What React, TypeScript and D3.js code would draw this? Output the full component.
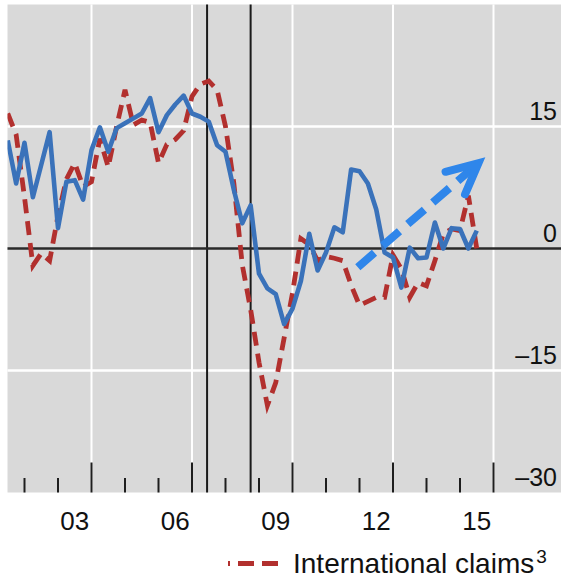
import React from "react";
import * as d3 from "d3";

// Quarterly observations, 2001Q3 .. 2015Q3
const quarters = [
  "2001Q3","2001Q4",
  "2002Q1","2002Q2","2002Q3","2002Q4",
  "2003Q1","2003Q2","2003Q3","2003Q4",
  "2004Q1","2004Q2","2004Q3","2004Q4",
  "2005Q1","2005Q2","2005Q3","2005Q4",
  "2006Q1","2006Q2","2006Q3","2006Q4",
  "2007Q1","2007Q2","2007Q3","2007Q4",
  "2008Q1","2008Q2","2008Q3","2008Q4",
  "2009Q1","2009Q2","2009Q3","2009Q4",
  "2010Q1","2010Q2","2010Q3","2010Q4",
  "2011Q1","2011Q2","2011Q3","2011Q4",
  "2012Q1","2012Q2","2012Q3","2012Q4",
  "2013Q1","2013Q2","2013Q3","2013Q4",
  "2014Q1","2014Q2","2014Q3","2014Q4",
  "2015Q1","2015Q2","2015Q3",
];

const blueSeries = [
  13.3, 8.0,
  13.0, 6.3, 10.3, 14.3,
  2.5, 8.2, 8.4, 6.0,
  12.1, 14.9, 11.9, 14.8,
  15.4, 16.0, 16.6, 18.5,
  14.3, 16.4, 17.7, 18.8,
  16.6, 16.2, 15.6, 12.7,
  11.9, 7.2, 3.1, 5.3,
  -3.1, -4.9, -5.6, -9.3,
  -7.4, -4.0, 1.8, -2.7,
  -0.5, 2.6, 2.0, 9.7,
  9.5, 8.0, 4.8, -0.5,
  -1.1, -4.8, 0.1, -1.2,
  -1.1, 3.2, 0.0, 2.5,
  2.4, 0.0, 2.2,
];

const internationalClaims = [
  16.6, 14.0,
  6.3, -2.1, -0.6, -1.5,
  4.0, 8.5, 10.5, 7.6,
  8.2, 13.5, 10.0, 15.0,
  19.5, 15.2, 15.8, 15.5,
  10.5, 12.8, 13.4, 14.5,
  18.7, 20.2, 20.6, 19.5,
  15.0, 8.0, -2.0, -7.5,
  -14.0, -19.3, -16.5, -11.0,
  -5.5, 1.2, 0.5, -1.5,
  -1.0, -1.2, -1.5, -4.5,
  -7.0, -6.5, -6.0, -6.0,
  -0.8, -2.5, -6.0, -4.2,
  -4.6, -1.5, 1.8, 2.4,
  2.2, 6.5, 0.0,
];

const yTicks = [15, 0, -15, -30];
const yTickLabels = ["15", "0", "\u201315", "\u201330"];
const yGrid = [15, -15];
const majorTickYears = [2004, 2007, 2010, 2013, 2016];
const minorTickYears = [2002, 2003, 2005, 2006, 2008, 2009, 2011, 2012, 2014, 2015];
const labelYears = [2003, 2006, 2009, 2012, 2015];
const labelTexts = ["03", "06", "09", "12", "15"];
const eventDates = [2007.45, 2008.75];
const arrowFrom = { t: 2011.95, v: -2.3 };
const arrowTo = { t: 2015.55, v: 10.5 };
const legendLabel = "International claims";
const legendSup = "3";

const W = 561;
const H = 578;
const FONT = "'Liberation Sans', Arial, Helvetica, sans-serif";

function toTime(q: string): number {
  const y = +q.slice(0, 4);
  const n = +q.slice(5);
  return y + (n - 1) / 4;
}

export default function App() {
  const x = d3.scaleLinear().domain([2001.5, 2018]).range([7.75, 560.5]);
  const y = d3.scaleLinear().domain([-30, 30]).range([492.5, 4.5]);
  const left = 7.5, right = W, top = 4.5, bottom = 492.5;

  const line = d3
    .line<number>()
    .x((_, i) => x(toTime(quarters[i])))
    .y((d) => y(d));

  const ax = x(arrowFrom.t), ay = y(arrowFrom.v);
  const bx = x(arrowTo.t), by = y(arrowTo.v);
  const ang = Math.atan2(ay - by, ax - bx);
  const headLen = 34;
  const spread = (26 * Math.PI) / 180;
  const h1 = [bx + headLen * Math.cos(ang + spread), by + headLen * Math.sin(ang + spread)];
  const h2 = [bx + headLen * Math.cos(ang - spread), by + headLen * Math.sin(ang - spread)];
  const shaftEndX = bx + 6 * Math.cos(ang);
  const shaftEndY = by + 6 * Math.sin(ang);

  return (
    <svg
      width={W}
      height={H}
      style={{ position: "absolute", left: 0, top: 0, background: "#fff" }}
    >
      <defs>
        <clipPath id="plot">
          <rect x={left} y={top} width={right - left} height={bottom - top} />
        </clipPath>
      </defs>
      <rect x={left} y={top} width={right - left} height={bottom - top} fill="#d9d9d9" />
      {yGrid.map((v) => (
        <line key={"hg" + v} x1={left} x2={right} y1={y(v)} y2={y(v)} stroke="#fff" strokeWidth={2.5} />
      ))}
      {majorTickYears.map((t) => (
        <line key={"vg" + t} x1={x(t)} x2={x(t)} y1={top} y2={bottom} stroke="#fff" strokeWidth={2} />
      ))}
      {majorTickYears.map((t) => (
        <line key={"mt" + t} x1={x(t)} x2={x(t)} y1={bottom - 30} y2={bottom} stroke="#1e1e1e" strokeWidth={2} />
      ))}
      {minorTickYears.map((t) => (
        <line key={"nt" + t} x1={x(t)} x2={x(t)} y1={bottom - 14.5} y2={bottom} stroke="#1e1e1e" strokeWidth={2} />
      ))}
      {eventDates.map((t) => (
        <line key={"ev" + t} x1={x(t)} x2={x(t)} y1={top} y2={bottom} stroke="#1a1a1a" strokeWidth={2} />
      ))}
      <line x1={left} x2={right} y1={y(0)} y2={y(0)} stroke="#2a2a2a" strokeWidth={2.5} />
      <g clipPath="url(#plot)">
        <path
          d={line(internationalClaims) || ""}
          fill="none"
          stroke="#b2302e"
          strokeWidth={4.8}
          strokeDasharray="14 8"
        />
        <path
          d={line(blueSeries) || ""}
          fill="none"
          stroke="#3a72ba"
          strokeWidth={4.6}
          strokeLinejoin="round"
        />
        <line
          x1={ax}
          y1={ay}
          x2={shaftEndX}
          y2={shaftEndY}
          stroke="#2f86ea"
          strokeWidth={8}
          strokeDasharray="22 11"
        />
        <polyline
          points={`${h1[0]},${h1[1]} ${bx},${by} ${h2[0]},${h2[1]}`}
          fill="none"
          stroke="#2f86ea"
          strokeWidth={8}
          strokeLinecap="round"
          strokeLinejoin="miter"
        />
      </g>
      {yTicks.map((v, i) => (
        <text
          key={"yl" + v}
          x={557}
          y={y(v) - 7}
          textAnchor="end"
          fontFamily={FONT}
          fontSize={25}
          fill="#111"
        >
          {yTickLabels[i]}
        </text>
      ))}
      {labelYears.map((t, i) => (
        <text
          key={"xl" + t}
          x={x(t + 0.5)}
          y={530}
          textAnchor="middle"
          fontFamily={FONT}
          fontSize={26}
          fill="#111"
        >
          {labelTexts[i]}
        </text>
      ))}
      <line
        x1={228}
        x2={280}
        y1={563.5}
        y2={563.5}
        stroke="#b2302e"
        strokeWidth={4.8}
        strokeDasharray="2 8 16 8 16 8"
      />
      <text x={293} y={573} fontFamily={FONT} fontSize={28} fill="#111">
        {legendLabel}
        <tspan fontSize={19} dy={-10} dx={2}>
          {legendSup}
        </tspan>
      </text>
    </svg>
  );
}
